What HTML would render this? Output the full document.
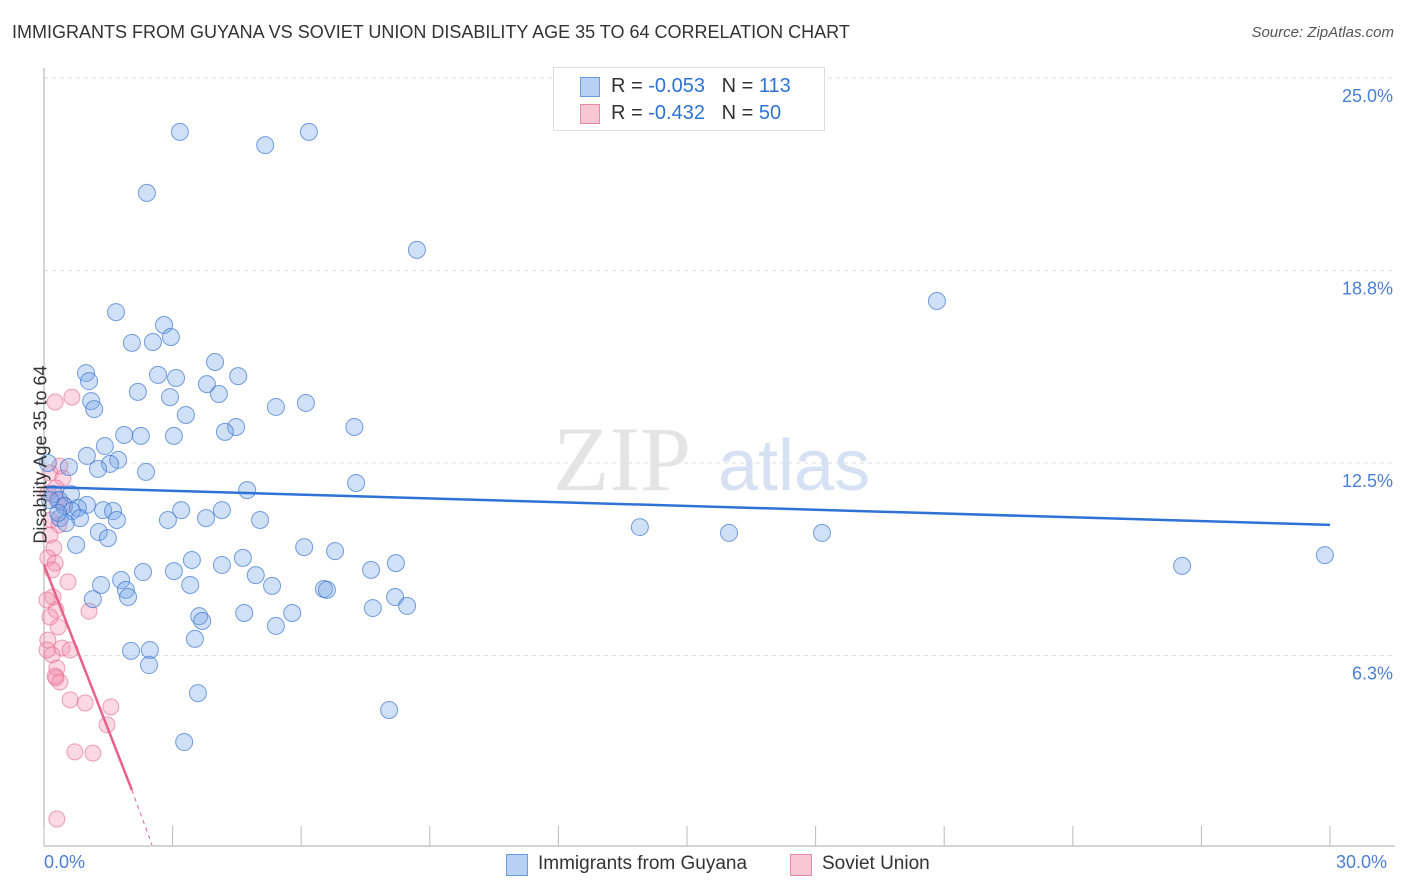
<!DOCTYPE html>
<html><head><meta charset="utf-8">
<style>
body{margin:0;background:#fff;font-family:"Liberation Sans",sans-serif;}
#wrap{position:relative;width:1406px;height:892px;overflow:hidden;}
.t{position:absolute;white-space:nowrap;}
</style></head>
<body><div id="wrap">
<div class="t" style="left:12px;top:22px;font-size:18px;color:#333;">IMMIGRANTS FROM GUYANA VS SOVIET UNION DISABILITY AGE 35 TO 64 CORRELATION CHART</div>
<div class="t" style="right:12px;top:24px;font-size:15px;color:#555;font-style:italic;">Source: ZipAtlas.com</div>
<svg id="svg" width="1406" height="892" style="position:absolute;left:0;top:0"></svg>
</div>
<script>
const xTicks=[0,3,6,9,12,15,18,21,24,27,30];
const yTicks=[6.25,12.5,18.75,25];
const yTickLabels=["6.3%","12.5%","18.8%","25.0%"];
const blueX=[3.17,5.16,6.18,2.40,8.70,20.83,1.68,2.80,2.96,2.05,2.54,3.99,0.98,2.66,1.05,3.08,4.53,3.80,2.19,2.94,4.08,1.10,1.17,5.41,6.11,3.31,7.24,4.48,4.22,1.87,2.26,3.03,1.42,1.00,1.73,1.54,1.26,0.58,2.38,0.09,7.28,4.74,0.23,0.63,0.35,1.00,0.47,0.79,0.65,1.38,1.61,3.20,4.15,0.37,0.84,1.70,2.89,3.78,5.04,0.51,1.28,1.49,0.75,13.90,15.98,18.15,29.88,26.55,6.07,6.79,4.64,3.45,4.15,2.31,3.03,7.63,8.21,4.94,1.80,1.33,3.41,5.32,1.91,6.53,6.60,1.96,8.19,1.14,8.47,7.67,4.67,5.79,3.62,3.69,5.41,3.52,2.03,2.47,2.45,3.59,8.05,3.27,0.14,0.33];
const blueY=[23.25,22.82,23.25,21.27,19.42,17.76,17.40,16.98,16.59,16.40,16.43,15.78,15.42,15.36,15.16,15.26,15.32,15.06,14.81,14.64,14.74,14.51,14.25,14.32,14.45,14.06,13.67,13.67,13.51,13.41,13.38,13.38,13.05,12.73,12.60,12.47,12.31,12.37,12.21,12.50,11.85,11.62,11.49,11.49,11.30,11.14,11.10,11.04,10.94,10.97,10.94,10.97,10.97,10.71,10.71,10.65,10.65,10.71,10.65,10.55,10.26,10.06,9.84,10.42,10.23,10.23,9.51,9.16,9.77,9.64,9.42,9.35,9.19,8.96,8.99,9.03,9.25,8.86,8.70,8.54,8.54,8.51,8.38,8.41,8.38,8.15,8.15,8.08,7.86,7.79,7.63,7.63,7.53,7.37,7.21,6.79,6.40,6.43,5.94,5.03,4.48,3.44,11.30,10.88];
const pinkX=[0.26,0.65,0.37,0.14,0.44,0.28,0.09,0.30,0.47,0.16,0.35,0.14,0.23,0.09,0.26,0.19,0.56,0.21,0.28,1.05,0.14,0.33,0.09,0.42,0.61,0.19,0.30,0.28,0.37,0.26,0.61,0.96,1.56,1.47,0.72,1.14,0.30,0.07,0.07];
const pinkY=[14.48,14.64,12.40,12.18,12.01,11.69,11.53,11.30,11.14,10.65,10.49,10.16,9.74,9.42,9.25,9.03,8.64,8.15,7.73,7.69,7.50,7.18,6.75,6.49,6.43,6.27,5.84,5.52,5.39,5.58,4.81,4.71,4.58,4.00,3.12,3.08,0.94,8.05,6.43];
const blueTrend=[11.72,10.49];
const pinkTrend=[9.19,1.88,0.1];
const pinkTrendX=[0,2.05,2.52];

const X0=44,X1=1330,Y0=848,PXY=30.8;
const sx=v=>X0+(X1-X0)*v/30;
const sy=v=>Y0-v*PXY;
const svg=document.getElementById('svg');
const NS='http://www.w3.org/2000/svg';
function mk(tag,attrs){const e=document.createElementNS(NS,tag);for(const k in attrs)e.setAttribute(k,attrs[k]);svg.appendChild(e);return e;}
// gridlines
yTicks.forEach((v,i)=>{
 const g=mk('line',{x1:X0,x2:1395,y1:sy(v),y2:sy(v),stroke:'#ddd','stroke-dasharray':'4,4'});
 
 
 const t=mk('text',{x:1393,y:sy(v)+24,'text-anchor':'end','font-size':18,fill:'#4a7fd4','font-family':'Liberation Sans'});
 t.textContent=yTickLabels[i];
 
 
});
// axes
const ya=mk('line',{x1:X0,x2:X0,y1:68,y2:846,stroke:'#aaa'});


const xa=mk('line',{x1:X0,x2:1395,y1:846,y2:846,stroke:'#aaa'});


xTicks.forEach(v=>{
 const l=mk('line',{x1:sx(v),x2:sx(v),y1:826,y2:846,stroke:'#bbb'});
 
 
});
// watermark
const w1=mk('text',{x:553,y:490,'font-size':92,fill:'#e4e4e4','font-family':'Liberation Serif'});w1.textContent='ZIP';


const w2=mk('text',{x:718,y:490,'font-size':72,fill:'#d6e2f3','font-family':'Liberation Sans'});w2.textContent='atlas';


// points
pinkX.forEach((v,i)=>{
 const c=mk('circle',{cx:sx(v),cy:sy(pinkY[i]),r:8,fill:'rgba(244,143,177,0.35)',stroke:'rgba(230,100,140,0.6)','stroke-width':1});
 
 
});
blueX.forEach((v,i)=>{
 const c=mk('circle',{cx:sx(v),cy:sy(blueY[i]),r:8.5,fill:'rgba(120,165,230,0.35)',stroke:'rgba(60,120,210,0.7)','stroke-width':1});
 
 
});
// trends
const bt=mk('line',{x1:sx(0),y1:sy(blueTrend[0]),x2:sx(30),y2:sy(blueTrend[1]),stroke:'#2f72d6','stroke-width':2.5});


const pt=mk('line',{x1:sx(pinkTrendX[0]),y1:sy(pinkTrend[0]),x2:sx(pinkTrendX[1]),y2:sy(pinkTrend[1]),stroke:'#e8608c','stroke-width':2.5});


const pd=mk('line',{x1:sx(pinkTrendX[1]),y1:sy(pinkTrend[1]),x2:sx(pinkTrendX[2]),y2:sy(pinkTrend[2]),stroke:'#e8608c','stroke-width':1,'stroke-dasharray':'4,4'});


</script>
<div class="t" style="left:-48px;top:444px;font-size:18px;color:#333;transform:rotate(-90deg);">Disability Age 35 to 64</div>
<div class="t" style="left:44px;top:852px;font-size:18px;color:#4a7fd4;">0.0%</div>
<div class="t" style="left:1336px;top:852px;font-size:18px;color:#4a7fd4;">30.0%</div>
<div style="position:absolute;left:553px;top:67px;width:270px;height:62px;border:1px solid #ddd;background:#fff;font-size:20px;color:#333;">
 <div style="position:absolute;left:26px;top:9px;width:18px;height:18px;background:#b8d0f3;border:1px solid #6a9be0;"></div>
 <div class="t" style="left:57px;top:7px;">R = <span style="color:#2f72d6">-0.053</span>&nbsp;&nbsp;&nbsp;N = <span style="color:#2f72d6">113</span></div>
 <div style="position:absolute;left:26px;top:36px;width:18px;height:18px;background:#f9c6d6;border:1px solid #ea8aaa;"></div>
 <div class="t" style="left:57px;top:34px;">R = <span style="color:#2f72d6">-0.432</span>&nbsp;&nbsp;&nbsp;N = <span style="color:#2f72d6">50</span></div>
</div>
<div style="position:absolute;left:506px;top:853px;font-size:19px;color:#333;">
 <div style="position:absolute;left:0;top:1px;width:20px;height:20px;background:#b8d0f3;border:1px solid #6a9be0;"></div>
 <div class="t" style="left:32px;top:0;">Immigrants from Guyana</div></div>
<div style="position:absolute;left:790px;top:853px;font-size:19px;color:#333;">
 <div style="position:absolute;left:0;top:1px;width:20px;height:20px;background:#f9c6d6;border:1px solid #ea8aaa;"></div>
 <div class="t" style="left:32px;top:0;">Soviet Union</div></div>
</body></html>
